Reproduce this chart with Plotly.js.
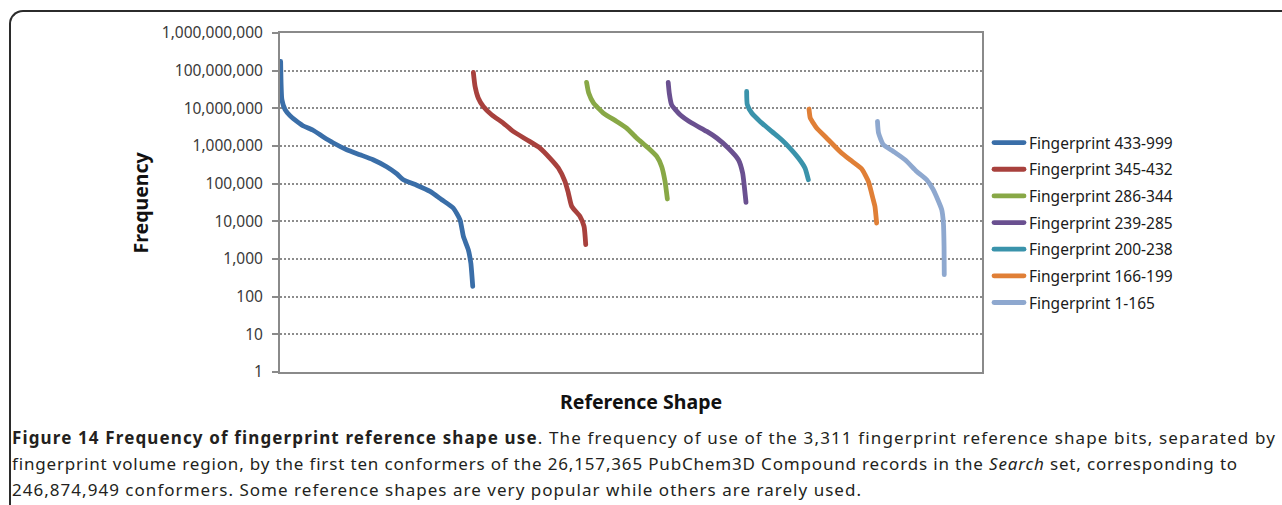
<!DOCTYPE html>
<html>
<head>
<meta charset="utf-8">
<script src="https://cdn.plot.ly/plotly-3.0.1.min.js"></script>
<style>
  html, body { margin: 0; padding: 0; background: #fff; overflow: hidden; }
  #wrap { position: relative; width: 1282px; height: 505px; }
  #chart { position: absolute; left: 0; top: 0; width: 1282px; height: 505px; }
  #frame {
    position: absolute; left: 9px; top: 10px; width: 1300px; height: 520px;
    border-left: 2px solid #2b2b2b; border-top: 2px solid #2b2b2b;
    border-top-left-radius: 14px; pointer-events: none; box-sizing: border-box;
  }
  .cap {
    position: absolute; left: 12px; font-family: "Noto Sans", sans-serif;
    font-size: 17px; line-height: 26px; color: #231f20; white-space: nowrap;
  }
  #cap1 { top: 425px; }
  #cap2 { top: 451px; }
  #cap3 { top: 477px; }
  .js-line { stroke-linecap: round; stroke-linejoin: round; }
</style>
</head>
<body>
<div id="wrap">
  <div id="chart"></div>
  <div id="frame"></div>
  <div class="cap" id="cap1" data-w="1264"><b>Figure 14 Frequency of fingerprint reference shape use</b>. The frequency of use of the 3,311 fingerprint reference shape bits, separated by</div>
  <div class="cap" id="cap2" data-w="1226">fingerprint volume region, by the first ten conformers of the 26,157,365 PubChem3D Compound records in the <i>Search</i> set, corresponding to</div>
  <div class="cap" id="cap3" data-w="850">246,874,949 conformers. Some reference shapes are very popular while others are rarely used.</div>
</div>
<script>
// Reference shape bits ordered by volume region, each region sorted by use frequency.
const seriesNames = [
  "Fingerprint 433-999", "Fingerprint 345-432", "Fingerprint 286-344",
  "Fingerprint 239-285", "Fingerprint 200-238", "Fingerprint 166-199",
  "Fingerprint 1-165"
];
const seriesColors = ["#3a6ea8", "#a8413d", "#88a846", "#6a5090", "#3a93ab", "#e07f36", "#8ea8cf"];

const shape433 = [3, 9, 24, 47, 75, 108, 156, 203, 250, 315, 377, 439, 503, 550, 582, 645, 708, 763, 817, 849, 865, 888, 900, 909];
const freq433 = [176000000, 16900000, 9200000, 6400000, 4690000, 3450000, 2620000, 1760000, 1220000, 796000, 587000, 432000, 282000, 184000, 127000, 91000, 62200, 37500, 22600, 11000, 3980, 1770, 783, 187];

const shape345 = [912, 920, 935, 959, 998, 1053, 1100, 1164, 1226, 1273, 1313, 1344, 1360, 1376, 1415, 1434, 1442];
const freq345 = [89800000, 38200000, 18800000, 11200000, 6770000, 4070000, 2440000, 1470000, 884000, 480000, 260000, 115000, 56500, 24900, 13500, 7330, 2400];

const shape286 = [1446, 1456, 1479, 1525, 1588, 1635, 1682, 1737, 1777, 1800, 1816, 1827];
const freq286 = [48800000, 25500000, 13800000, 7510000, 4500000, 3000000, 1630000, 884000, 529000, 287000, 115000, 39200];

const shape239 = [1831, 1836, 1847, 1887, 1942, 2013, 2060, 2114, 2162, 2182, 2190, 2198];
const freq239 = [48800000, 25500000, 12500000, 6770000, 4070000, 2440000, 1630000, 884000, 432000, 192000, 84500, 31800];

const shape200 = [2201, 2204, 2225, 2264, 2319, 2366, 2405, 2445, 2476, 2492];
const freq200 = [28100000, 12500000, 7510000, 4500000, 2440000, 1470000, 884000, 480000, 260000, 127000];

const shape166 = [2495, 2501, 2515, 2531, 2586, 2641, 2688, 2743, 2775, 2798, 2806, 2814];
const freq166 = [9590000, 5530000, 4070000, 3000000, 1470000, 718000, 432000, 249000, 115000, 37500, 24900, 9020];

const shape1 = [2818, 2823, 2846, 2893, 2948, 3003, 3050, 3081, 3121, 3129, 3132, 3133];
const freq1 = [4500000, 2210000, 1080000, 718000, 432000, 211000, 127000, 69100, 20400, 9020, 2160, 383];

const shapeTotal = 3311;
const yTickVals = [1, 10, 100, 1000, 10000, 100000, 1000000, 10000000, 100000000, 1000000000];
const yTickText = ["1", "10", "100", "1,000", "10,000", "100,000", "1,000,000", "10,000,000", "100,000,000", "1,000,000,000"];

const xs = [shape433, shape345, shape286, shape239, shape200, shape166, shape1];
const ys = [freq433, freq345, freq286, freq239, freq200, freq166, freq1];

const traces = seriesNames.map((name, i) => ({
  type: "scatter",
  mode: "lines",
  name: name,
  legendgroup: "g" + i,
  x: xs[i],
  y: ys[i],
  line: { color: seriesColors[i], width: 4.8, shape: "spline", smoothing: 0.5 },
  hoverinfo: "name+y"
}));

const W = 1282, H = 505;
const mL = 280, mR = 300, mT = 33, mB = 133;
const plotW = W - mL - mR, plotH = H - mT - mB;
const px = v => (v - mL) / plotW;
const py = v => (H - mB - v) / plotH;

const layout = {
  width: W, height: H,
  margin: { l: mL, r: mR, t: mT, b: mB, pad: 0 },
  paper_bgcolor: "rgba(0,0,0,0)",
  plot_bgcolor: "#ffffff",
  font: { family: "Noto Sans, sans-serif", color: "#333333" },
  showlegend: true,
  legend: {
    x: px(989), xanchor: "left",
    y: py(126), yanchor: "top",
    font: { family: "Noto Sans, sans-serif", size: 15.5, color: "#1a1a1a" },
    tracegroupgap: 3.5,
    itemwidth: 30,
    bgcolor: "rgba(0,0,0,0)"
  },
  xaxis: {
    range: [0, shapeTotal],
    showticklabels: false, ticks: "",
    showgrid: false, zeroline: false,
    showline: true, linecolor: "#8a8a8a", linewidth: 2, mirror: true,
    fixedrange: true
  },
  yaxis: {
    type: "log",
    range: [0, 9],
    tickmode: "array", tickvals: yTickVals, ticktext: yTickText,
    ticks: "outside", ticklen: 6, tickwidth: 2, tickcolor: "#8a8a8a",
    ticklabelstandoff: 6,
    tickfont: { family: "Noto Sans, sans-serif", size: 15.5, color: "#3a3a3a" },
    showgrid: true, gridcolor: "#8c8c8c", gridwidth: 1.8, griddash: "2px,2px",
    zeroline: false,
    showline: true, linecolor: "#8a8a8a", linewidth: 2, mirror: true,
    fixedrange: true
  },
  annotations: [
    {
      text: "<b>Frequency</b>", xref: "paper", yref: "paper",
      x: px(140), y: 0.5, xanchor: "center", yanchor: "middle",
      textangle: -90, showarrow: false,
      font: { family: "Noto Sans, sans-serif", size: 19.5, color: "#111111" }
    },
    {
      text: "<b>Reference Shape</b>", xref: "paper", yref: "paper",
      x: px(641), y: py(401), xanchor: "center", yanchor: "middle",
      showarrow: false,
      font: { family: "Noto Sans, sans-serif", size: 19.5, color: "#111111" }
    }
  ]
};

Plotly.newPlot("chart", traces, layout, { displayModeBar: false, staticPlot: true });

// Spread each caption line across its set width.
function fitCaptions() {
  document.querySelectorAll(".cap").forEach(el => {
    el.style.letterSpacing = "0px";
    const target = parseFloat(el.dataset.w);
    const natural = el.getBoundingClientRect().width;
    const n = el.textContent.length;
    el.style.letterSpacing = ((target - natural) / n).toFixed(3) + "px";
  });
}
fitCaptions();
if (document.fonts && document.fonts.ready) document.fonts.ready.then(fitCaptions);
</script>
</body>
</html>
